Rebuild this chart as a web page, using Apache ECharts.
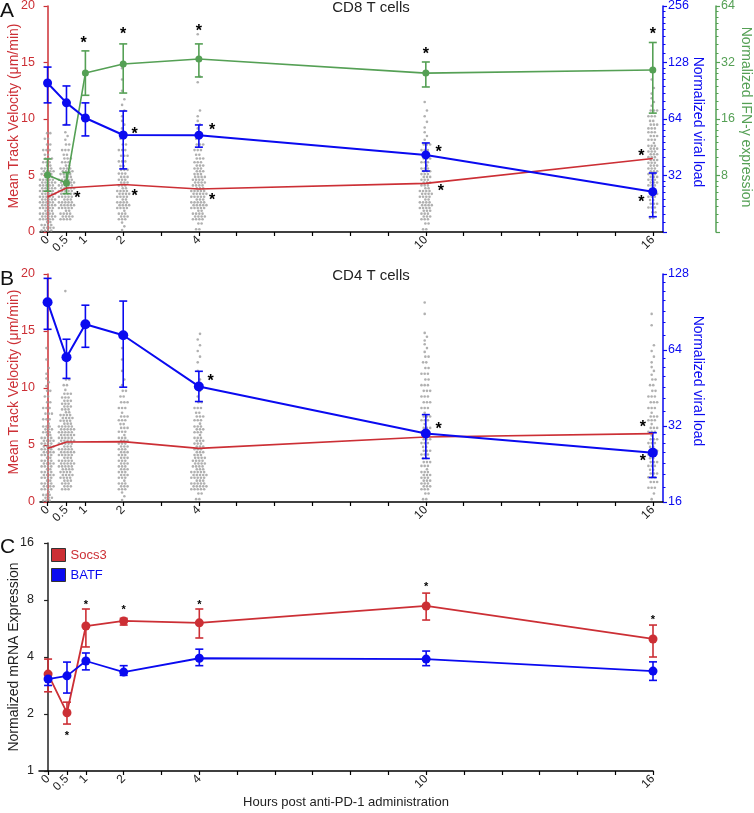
<!DOCTYPE html>
<html>
<head>
<meta charset="UTF-8">
<title>Anti-PD-1 time course</title>
<script src="https://cdn.jsdelivr.net/npm/echarts@6/dist/echarts.min.js"></script>
<style>
  html, body { margin: 0; padding: 0; background: #fff; }
  #chart { width: 754px; height: 813px; }
</style>
</head>
<body>
<div id="chart"></div>
<script>
// hours after anti-PD-1
const hours = [0, 0.5, 1, 2, 4, 10, 16];
const hourLabels = [0, 0.5, 1, 2, 4, 10, 16];
const hourTicks = [0, 0.5, 1, 2, 3, 4, 5, 6, 7, 8, 9, 10, 11, 12, 13, 14, 15, 16];

// A: CD8 T cells
const cd8VelHours = [0, 0.5, 2, 4, 10, 16];
const cd8Velocity = [3.1, 3.9, 4.2, 3.8, 4.3, 6.5];
const cd8Viral = [99.5, 78, 64.8, 52.6, 52.5, 41.2, 26.2];
const cd8ViralHi = [121, 96, 78, 70.6, 59.5, 47.7, 33];
const cd8ViralLo = [78, 59.5, 52, 34.7, 45.3, 33.8, 19.3];
const cd8Ifng = [8.05, 7.3, 28.1, 31.4, 33.4, 28.1, 29.2];
const cd8IfngHi = [9.8, 8.3, 36.9, 40.2, 40.2, 32.2, 40.9];
const cd8IfngLo = [6.6, 6.4, 21.4, 22, 26.8, 23.7, 17.2];
// tracks per 1 µm/min bin (0-1, 1-2, ...) at each imaged time point
const cd8Tracks = [
  [14, 18, 20, 20, 18, 14, 8, 5, 4],
  [0, 14, 18, 20, 18, 14, 8, 5, 3, 1],
  [3, 10, 14, 14, 12, 8, 6, 5, 4, 3, 2, 2, 1, 1, 1],
  [4, 14, 18, 18, 16, 12, 8, 6, 4, 3, 2, 0, 0, 2, 0, 0, 0, 1],
  [4, 12, 14, 14, 12, 10, 8, 6, 3, 2, 2, 1],
  [0, 4, 8, 10, 12, 12, 12, 10, 9, 8, 6, 3, 2, 1]
];

// B: CD4 T cells
const cd4VelHours = [0, 0.5, 2, 4, 10, 16];
const cd4Velocity = [4.7, 5.26, 5.3, 4.7, 5.7, 6.0];
const cd4Viral = [99, 59.9, 81, 73.2, 45.9, 29.9, 25.1];
const cd4ViralHi = [123, 70.6, 96.3, 100, 52.7, 35.5, 30.1];
const cd4ViralLo = [77.3, 49.4, 65.6, 45.6, 40, 23.8, 20];
const cd4Tracks = [
  [10, 14, 14, 14, 16, 14, 10, 6, 5, 4, 3, 2, 1, 1],
  [0, 12, 16, 18, 18, 20, 18, 14, 12, 7, 4, 0, 0, 0, 0, 0, 0, 0, 1],
  [3, 10, 12, 12, 12, 10, 8, 7, 6, 4, 2, 1, 1, 1, 1],
  [4, 18, 18, 16, 12, 10, 10, 8, 5, 2, 2, 1, 2, 2, 2],
  [4, 12, 10, 8, 8, 8, 7, 7, 6, 6, 5, 5, 4, 3, 3, 0, 1, 1],
  [2, 6, 8, 8, 8, 7, 7, 7, 6, 5, 4, 3, 2, 2, 0, 1, 1]
];

// C: mRNA
const socs3 = [3.25, 2.03, 5.83, 6.2, 6.06, 7.44, 4.98];
const socs3Hi = [3.9, 2.31, 7.17, 6.4, 7.17, 8.7, 5.9];
const socs3Lo = [2.62, 1.77, 4.52, 5.9, 5.04, 6.27, 4.0];
const batf = [3.06, 3.18, 3.81, 3.33, 3.94, 3.9, 3.37];
const batfHi = [3.3, 3.76, 4.2, 3.6, 4.4, 4.3, 3.77];
const batfLo = [2.83, 2.58, 3.42, 3.2, 3.6, 3.6, 3.01];

// significance stars, [hour, value on that axis]
const cd8VelStars = [[0.79, 3.3], [2.3, 3.45], [4.35, 3.1], [10.4, 3.9], [15.7, 7.0]];
const cd8ViralStars = [[2.3, 55], [4.35, 58], [10.34, 44], [15.7, 24]];
const cd8IfngStars = [[0.95, 42], [2, 47], [4, 49], [10, 37], [16, 47]];
const cd4VelStars = [[15.74, 6.84]];
const cd4ViralStars = [[4.31, 49.4], [10.34, 32], [15.74, 23.9]];
const mrnaStars = [[0.5, 1.57], [1, 7.8], [2, 7.26], [4, 7.8], [10, 9.7], [16, 6.5]];

const RED = '#cc2f35', BLUE = '#0a0af0', GREEN = '#55a055', GRAY = '#9c9c9c';
const FONT = 'Arial, "Liberation Sans", sans-serif';

function pairs(xs, ys) { return xs.map((x, i) => [x, ys[i]]); }

// lay the tracks of each bin out as a small swarm around the time point
function swarm(xs, tracks) {
  let pts = [];
  xs.forEach((x, i) => {
    tracks[i].forEach((n, b) => {
      if (!n) return;
      let rows = n <= 3 ? n : Math.min(4, Math.ceil(n / 3));
      let cols = Math.ceil(n / rows);
      for (let k = 0; k < n; k++) {
        let r = Math.floor(k / cols), c = k % cols;
        let inRow = r === rows - 1 ? n - r * cols : cols;
        let dx = (c - (inRow - 1) / 2) * 0.085 + (r % 2 ? 0.03 : -0.03);
        pts.push([x + dx, b + (r + 0.5) / rows]);
      }
    });
  });
  return pts;
}

function dots(xs, tracks, xi, yi) {
  return {type: 'scatter', xAxisIndex: xi, yAxisIndex: yi, data: swarm(xs, tracks),
    symbolSize: 2.6, itemStyle: {color: GRAY}, silent: true, z: 1};
}

function line(name, xs, ys, color, xi, yi, size, width) {
  return {type: 'line', name, xAxisIndex: xi, yAxisIndex: yi, data: pairs(xs, ys),
    symbol: size ? 'circle' : 'none', symbolSize: size, lineStyle: {color, width},
    itemStyle: {color}, silent: true, z: 3};
}

function errBars(xs, lo, hi, color, xi, yi, cap) {
  return {type: 'custom', xAxisIndex: xi, yAxisIndex: yi, silent: true, z: 3,
    data: xs.map((x, i) => [x, lo[i], hi[i]]),
    encode: {x: 0, y: [1, 2]},
    renderItem(params, api) {
      const a = api.coord([api.value(0), api.value(1)]);
      const b = api.coord([api.value(0), api.value(2)]);
      const st = {stroke: color, lineWidth: 1.6};
      return {type: 'group', children: [
        {type: 'line', shape: {x1: a[0], y1: a[1], x2: b[0], y2: b[1]}, style: st},
        {type: 'line', shape: {x1: a[0] - cap, y1: a[1], x2: a[0] + cap, y2: a[1]}, style: st},
        {type: 'line', shape: {x1: b[0] - cap, y1: b[1], x2: b[0] + cap, y2: b[1]}, style: st}
      ]};
    }};
}

function stars(pts, xi, yi, size) {
  return {type: 'custom', xAxisIndex: xi, yAxisIndex: yi, silent: true, z: 6,
    data: pts,
    renderItem(params, api) {
      const p = api.coord([api.value(0), api.value(1)]);
      return {type: 'text', x: p[0], y: p[1] + size * 0.22,
        style: {text: '*', fill: '#000', fontSize: size, fontWeight: 'bold', fontFamily: FONT,
          align: 'center', verticalAlign: 'middle'}};
    }};
}

function xAxis(grid, min, max, name) {
  return {gridIndex: grid, type: 'value', min, max,
    axisLine: {show: true, onZero: false, lineStyle: {color: '#000', width: 1.5}},
    axisTick: {show: true, customValues: hourTicks, length: 4, lineStyle: {color: '#000', width: 1.2}},
    axisLabel: {customValues: hourLabels, rotate: 45, color: '#222', fontSize: 12, margin: 6},
    splitLine: {show: false},
    name: name || '', nameLocation: 'middle', nameGap: 24,
    nameTextStyle: {color: '#222', fontSize: 13}};
}

function yAxis(grid, opts, color) {
  return Object.assign({gridIndex: grid,
    axisLine: {show: true, lineStyle: {color, width: 1.5}},
    axisTick: {show: true, length: 4, lineStyle: {color, width: 1.2}},
    axisLabel: {color, fontSize: 12.5, margin: 5},
    splitLine: {show: false}}, opts);
}

// rotated axis titles
function axisTitle(text, x, y, color, side) {
  return {type: 'text', x, y, rotation: side === 'left' ? Math.PI / 2 : -Math.PI / 2,
    style: {text, fill: color, fontSize: 14, fontFamily: FONT, align: 'center', verticalAlign: 'middle'}};
}

const chart = echarts.init(document.getElementById('chart'));
chart.setOption({
  animation: false,
  textStyle: {fontFamily: FONT},
  grid: [
    {left: 40, right: 91, top: 6, height: 226, outerBoundsMode: 'none', containLabel: false},
    {left: 40, right: 91, top: 274, height: 228, outerBoundsMode: 'none', containLabel: false},
    {left: 39, right: 101, top: 543, height: 228, outerBoundsMode: 'none', containLabel: false}
  ],
  xAxis: [
    xAxis(0, -0.2, 16.27),
    xAxis(1, -0.2, 16.27),
    xAxis(2, -0.24, 16, 'Hours post anti-PD-1 administration')
  ],
  yAxis: [
    yAxis(0, {type: 'value', min: 0, max: 20, interval: 5, position: 'left'}, RED),
    yAxis(0, {type: 'log', logBase: 2, min: 16, max: 256, position: 'right',
      minorTick: {show: true, splitNumber: 8, length: 2.5, lineStyle: {color: BLUE}},
      axisLabel: {color: BLUE, fontSize: 12.5, margin: 5, formatter: v => v === 16 ? '' : v}}, BLUE),
    yAxis(0, {type: 'log', logBase: 2, min: 4, max: 64, position: 'right', offset: 53,
      minorTick: {show: true, splitNumber: 8, length: 2.5, lineStyle: {color: GREEN}},
      axisLabel: {color: GREEN, fontSize: 12.5, margin: 5, formatter: v => v === 4 ? '' : v}}, GREEN),
    yAxis(1, {type: 'value', min: 0, max: 20, interval: 5, position: 'left'}, RED),
    yAxis(1, {type: 'log', logBase: 2, min: 16, max: 128, position: 'right',
      minorTick: {show: true, splitNumber: 7, length: 2.5, lineStyle: {color: BLUE}}}, BLUE),
    yAxis(2, {type: 'log', logBase: 2, min: 1, max: 16, position: 'left'}, '#222')
  ],
  legend: {
    left: 46, top: 543, orient: 'vertical', itemWidth: 14, itemHeight: 13, itemGap: 6,
    itemStyle: {borderColor: '#333', borderWidth: 1},
    textStyle: {fontSize: 13},
    data: [
      {name: 'Socs3', icon: 'rect', textStyle: {color: RED}},
      {name: 'BATF', icon: 'rect', textStyle: {color: BLUE}}
    ]
  },
  graphic: [
    {type: 'text', left: 0, top: 1, style: {text: 'A', fontSize: 21, fill: '#111', fontFamily: FONT}},
    {type: 'text', left: 0, top: 269, style: {text: 'B', fontSize: 21, fill: '#111', fontFamily: FONT}},
    {type: 'text', left: 0, top: 537, style: {text: 'C', fontSize: 21, fill: '#111', fontFamily: FONT}},
    {type: 'text', x: 371, y: 0, style: {text: 'CD8 T cells', fontSize: 15, fill: '#222', align: 'center', fontFamily: FONT}},
    {type: 'text', x: 371, y: 268, style: {text: 'CD4 T cells', fontSize: 15, fill: '#222', align: 'center', fontFamily: FONT}},
    axisTitle('Mean Track Velocity (μm/min)', 14, 116, RED, 'left'),
    axisTitle('Normalized viral load', 698, 122, BLUE, 'right'),
    axisTitle('Normalized IFN-γ expression', 746, 117, GREEN, 'right'),
    axisTitle('Mean Track Velocity (μm/min)', 14, 382, RED, 'left'),
    axisTitle('Normalized viral load', 698, 381, BLUE, 'right'),
    axisTitle('Normalized mRNA Expression', 14, 657, '#222', 'left')
  ],
  series: [
    // A
    dots(cd8VelHours, cd8Tracks, 0, 0),
    line('cd8 velocity', cd8VelHours, cd8Velocity, RED, 0, 0, 0, 1.6),
    errBars(hours, cd8IfngLo, cd8IfngHi, GREEN, 0, 2, 4),
    line('cd8 ifng', hours, cd8Ifng, GREEN, 0, 2, 7, 1.6),
    errBars(hours, cd8ViralLo, cd8ViralHi, BLUE, 0, 1, 4),
    line('cd8 viral', hours, cd8Viral, BLUE, 0, 1, 9, 2),
    stars(cd8VelStars, 0, 0, 16),
    stars(cd8ViralStars, 0, 1, 16),
    stars(cd8IfngStars, 0, 2, 16),
    // B
    dots(cd4VelHours, cd4Tracks, 1, 3),
    line('cd4 velocity', cd4VelHours, cd4Velocity, RED, 1, 3, 0, 1.6),
    errBars(hours, cd4ViralLo, cd4ViralHi, BLUE, 1, 4, 4),
    line('cd4 viral', hours, cd4Viral, BLUE, 1, 4, 10, 2),
    stars(cd4VelStars, 1, 3, 16),
    stars(cd4ViralStars, 1, 4, 16),
    // C
    errBars(hours, socs3Lo, socs3Hi, RED, 2, 5, 4),
    line('Socs3', hours, socs3, RED, 2, 5, 9, 1.8),
    errBars(hours, batfLo, batfHi, BLUE, 2, 5, 4),
    line('BATF', hours, batf, BLUE, 2, 5, 9, 1.8),
    stars(mrnaStars, 2, 5, 11)
  ]
});
</script>
</body>
</html>
